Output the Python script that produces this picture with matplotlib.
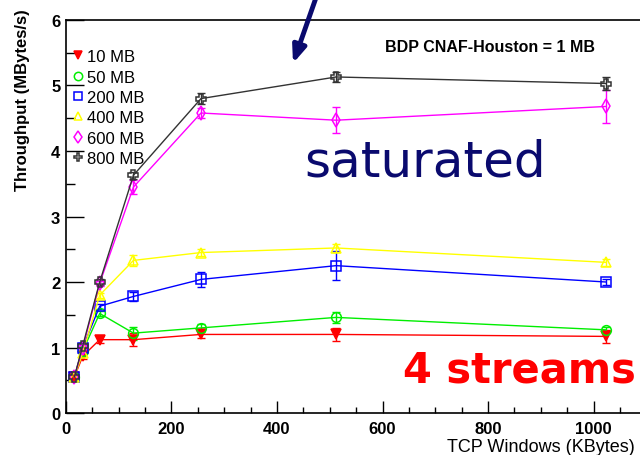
import numpy as np
import matplotlib
matplotlib.use("Agg")
import matplotlib.pyplot as plt
from matplotlib.ticker import MultipleLocator

plt.rcParams['font.family'] = ['Liberation Sans', 'DejaVu Sans']

# TCP window sizes (KBytes)
windows = [16, 32, 64, 128, 256, 512, 1024]

labels = ["10 MB", "50 MB", "200 MB", "400 MB", "600 MB", "800 MB"]
colors = ["#ff0000", "#00ee00", "#0000ff", "#ffff00", "#ff00ff", "#333333"]
markers = ["v", "o", "s", "^", "d", "P"]

# throughput (MBytes/s)
tp_10 = [0.55, 0.87, 1.12, 1.12, 1.20, 1.20, 1.17]
tp_50 = [0.55, 0.95, 1.52, 1.22, 1.30, 1.46, 1.27]
tp_200 = [0.55, 1.00, 1.63, 1.78, 2.04, 2.25, 2.00]
tp_400 = [0.55, 0.92, 1.80, 2.33, 2.45, 2.52, 2.30]
tp_600 = [0.55, 1.00, 1.98, 3.45, 4.58, 4.47, 4.68]
tp_800 = [0.55, 1.03, 2.00, 3.63, 4.80, 5.13, 5.03]

err_10 = [0.03, 0.04, 0.05, 0.10, 0.05, 0.10, 0.10]
err_50 = [0.03, 0.04, 0.04, 0.10, 0.06, 0.08, 0.05]
err_200 = [0.03, 0.04, 0.04, 0.07, 0.12, 0.22, 0.05]
err_400 = [0.03, 0.04, 0.04, 0.08, 0.05, 0.06, 0.05]
err_600 = [0.03, 0.04, 0.04, 0.10, 0.08, 0.20, 0.25]
err_800 = [0.03, 0.04, 0.04, 0.05, 0.08, 0.08, 0.10]

series = [tp_10, tp_50, tp_200, tp_400, tp_600, tp_800]
errors = [err_10, err_50, err_200, err_400, err_600, err_800]

fig = plt.figure(figsize=(6.4, 4.56), dpi=100)
ax = fig.add_axes([0.103, 0.092, 0.897, 0.862])

handles = []
for y, e, c, m, lab in zip(series, errors, colors, markers, labels):
    ax.errorbar(windows, y, yerr=e, fmt='none', ecolor=c, elinewidth=1,
                capsize=3, capthick=1, zorder=2)
    filled = (m == "v")
    ln, = ax.plot(windows, y, color=c, lw=1, marker=m, ms=7,
                  mfc=c if filled else 'none', mec=c, mew=1.1,
                  label=lab, zorder=3)
    handles.append(ln)

ax.set_xlim(0, 1088)
ax.set_ylim(0, 6)
ax.xaxis.set_major_locator(MultipleLocator(200))
ax.xaxis.set_minor_locator(MultipleLocator(50))
ax.yaxis.set_major_locator(MultipleLocator(1))
ax.yaxis.set_minor_locator(MultipleLocator(0.5))
ax.tick_params(axis='x', which='major', direction='in', length=9, width=1, pad=6)
ax.tick_params(axis='x', which='minor', direction='in', length=4.5, width=1)
ax.tick_params(axis='y', which='major', direction='in', length=13, width=1, pad=4)
ax.tick_params(axis='y', which='minor', direction='in', length=6.5, width=1)
for lbl in ax.get_xticklabels() + ax.get_yticklabels():
    lbl.set_fontweight('bold')
    lbl.set_fontsize(12)
ax.spines['right'].set_visible(False)
for s in ['left', 'bottom', 'top']:
    ax.spines[s].set_linewidth(1.2)

ax.set_xlabel("TCP Windows (KBytes)", fontsize=13, loc='right')
ax.xaxis.set_label_coords(0.991, -0.063)
ax.set_ylabel("Throughput (MBytes/s)", fontsize=12, fontweight='bold', loc='top')
ax.yaxis.set_label_coords(-0.062, 1.03)

leg = ax.legend(handles=handles, loc='upper left', bbox_to_anchor=(0.0, 0.955),
                frameon=False, handlelength=0, handletextpad=0.55,
                labelspacing=0.32, fontsize=12, borderaxespad=0.3)
for h in leg.legend_handles:
    h.set_markersize(6)

ax.text(0.556, 0.921, "BDP CNAF-Houston = 1 MB", transform=ax.transAxes,
        fontsize=11.5, fontweight='bold', ha='left', va='baseline')
ax.text(0.416, 0.605, "saturated", transform=ax.transAxes,
        fontsize=36, color='#0a0a6e', family='DejaVu Sans',
        ha='left', va='baseline')
ax.text(0.587, 0.079, "4 streams", transform=ax.transAxes,
        fontsize=30, color='#ff0000', family='DejaVu Sans', fontweight='bold',
        ha='left', va='baseline')

ax.annotate("", xy=(0.394, 0.883), xytext=(0.44, 1.075),
            xycoords='axes fraction', textcoords='axes fraction',
            annotation_clip=False,
            arrowprops=dict(arrowstyle='-|>,head_length=1.0,head_width=0.4',
                            color='#0a0a6e', lw=3.5))

fig.savefig("out.png", dpi=100)
